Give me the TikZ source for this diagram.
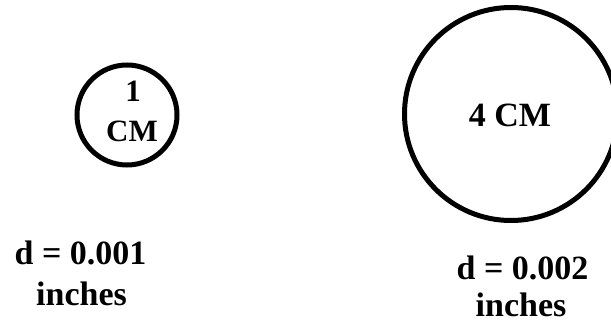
\documentclass[tikz,border=0pt]{standalone}
\usepackage{fontspec}
\setmainfont{Liberation Serif}
\begin{document}
\begin{tikzpicture}[x=1pt,y=-1pt,
  ring/.style={circle,draw,line width=5pt,inner sep=0pt},
  lbl/.style={font=\fontsize{34}{40}\selectfont\bfseries,inner sep=0pt,anchor=base}]
\useasboundingbox[fill=white] (0,0) rectangle (611,323);
\begin{scope}
\clip (0,0) rectangle (611,323);
\node[ring,minimum size=100pt] (small) at (127,115) {};
\node[ring,minimum size=213pt] (big) at (511,114) {};
\end{scope}
\node[lbl,font=\fontsize{31}{40}\selectfont\bfseries] (t1a) at (133,102) {1};
\node[lbl,font=\fontsize{31}{40}\selectfont\bfseries] (t1b) at (132,142) {CM};
\node[lbl] (t4) at (510,127) {4 CM};
\node[lbl] (d1a) at (80.5,265) {d = 0.001};
\node[lbl] (d1b) at (81.5,306) {inches};
\node[lbl] (d2a) at (522.5,280) {d = 0.002};
\node[lbl] (d2b) at (521,317) {inches};
\end{tikzpicture}
\end{document}
